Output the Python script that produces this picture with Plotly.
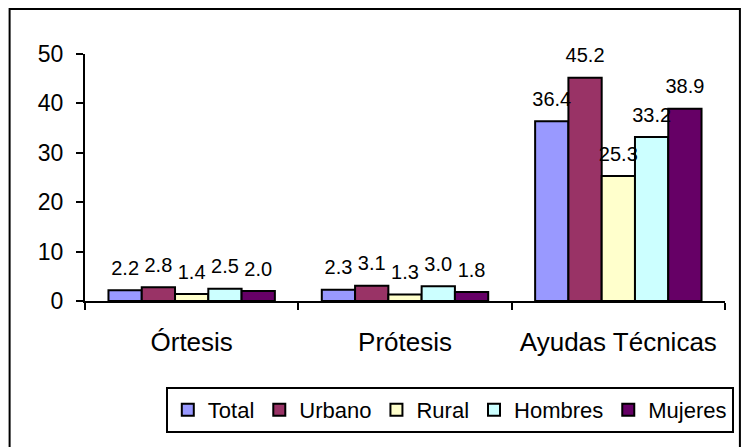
import plotly.graph_objects as go

categories = ["Órtesis", "Prótesis", "Ayudas Técnicas"]
series_names = ["Total", "Urbano", "Rural", "Hombres", "Mujeres"]
total = [2.2, 2.3, 36.4]
urbano = [2.8, 3.1, 45.2]
rural = [1.4, 1.3, 25.3]
hombres = [2.5, 3.0, 33.2]
mujeres = [2.0, 1.8, 38.9]
y_ticks = [0, 10, 20, 30, 40, 50]

colors = ["#9999FF", "#993366", "#FFFFCC", "#CCFFFF", "#660066"]
FONT = "Liberation Sans, Arial, sans-serif"
series = [total, urbano, rural, hombres, mujeres]

fig = go.Figure()
for name, vals, col in zip(series_names, series, colors):
    fig.add_trace(go.Bar(
        x=categories, y=vals, name=name,
        marker=dict(color=col, line=dict(color="black", width=2)),
    ))

# value labels: invisible grouped markers so the text sits a bit higher above the bars
for name, vals in zip(series_names, series):
    fig.add_trace(go.Scatter(
        x=categories, y=vals, mode="markers+text",
        text=[f"{v:.1f}" for v in vals], textposition="top center",
        textfont=dict(size=20, color="black", family=FONT),
        marker=dict(size=15, opacity=0),
        showlegend=False, hoverinfo="skip", cliponaxis=False,
    ))

# page body adds an 8px margin, so the figure is 738 wide
fig.update_layout(
    width=738, height=447,
    margin=dict(l=77, r=16, t=46, b=154),
    paper_bgcolor="white", plot_bgcolor="white",
    font=dict(family=FONT, color="black"),
    barmode="group", bargap=0.22, bargroupgap=0,
    scattermode="group", scattergap=0.22,
    showlegend=True,
    legend=dict(
        orientation="h", x=0.57, xanchor="center", y=-0.348, yanchor="top",
        font=dict(size=22), bordercolor="black", borderwidth=2,
        itemwidth=30, tracegroupgap=0,
    ),
    xaxis=dict(
        showline=True, linecolor="black", linewidth=2,
        ticks="outside", tickson="boundaries", ticklen=7, tickwidth=2, tickcolor="black",
        tickfont=dict(size=26), ticklabelstandoff=17,
    ),
    yaxis=dict(
        range=[0, 50], tickvals=y_ticks, showgrid=False, zeroline=False,
        showline=True, linecolor="black", linewidth=2,
        ticks="outside", ticklen=7, tickwidth=2, tickcolor="black",
        tickfont=dict(size=23), ticklabelstandoff=8,
    ),
    shapes=[dict(
        type="rect", xref="paper", yref="paper",
        x0=-0.1178, x1=1.0233, y0=-0.62, y1=1.182,
        line=dict(color="black", width=2), fillcolor="rgba(0,0,0,0)",
    )],
)

fig.write_html("out.html")
